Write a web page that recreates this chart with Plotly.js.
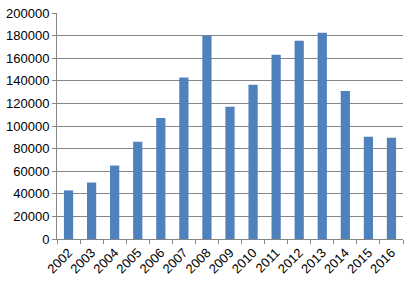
<!DOCTYPE html>
<html>
<head>
<meta charset="utf-8">
<script src="https://cdn.plot.ly/plotly-3.0.1.min.js"></script>
<style>html,body{margin:0;padding:0;background:#fff;}#chart{width:417px;height:285px;}</style>
</head>
<body>
<div id="chart"></div>
<script>
const years = ["2002","2003","2004","2005","2006","2007","2008","2009","2010","2011","2012","2013","2014","2015","2016"];
const values = [43000, 50000, 65000, 86000, 107000, 143000, 180000, 117000, 136500, 163000, 175500, 182500, 131000, 90500, 89500];
const yTicks = [0, 20000, 40000, 60000, 80000, 100000, 120000, 140000, 160000, 180000, 200000];

const trace = {
  type: "bar",
  x: years,
  y: values,
  marker: {color: "#4F81BD"},
  hoverinfo: "x+y"
};

const layout = {
  width: 417,
  height: 285,
  margin: {l: 57, r: 14, t: 13, b: 46},
  paper_bgcolor: "#ffffff",
  plot_bgcolor: "#ffffff",
  bargap: 0.6,
  showlegend: false,
  font: {family: "Liberation Sans, Arial, sans-serif", size: 13, color: "#000000"},
  xaxis: {
    type: "category",
    tickangle: -45,
    ticks: "outside",
    tickson: "boundaries",
    ticklen: 4,
    tickcolor: "#868686",
    showline: true,
    linecolor: "#868686",
    linewidth: 1,
    showgrid: false,
    tickfont: {size: 13}
  },
  yaxis: {
    range: [0, 200000],
    tickvals: yTicks,
    ticktext: yTicks.map(String),
    ticks: "outside",
    ticklen: 4,
    tickcolor: "#868686",
    showline: true,
    linecolor: "#868686",
    linewidth: 1,
    showgrid: true,
    gridcolor: "#868686",
    gridwidth: 1,
    zeroline: false,
    tickfont: {size: 13}
  }
};

Plotly.newPlot("chart", [trace], layout, {displayModeBar: false, staticPlot: true});
</script>
</body>
</html>
